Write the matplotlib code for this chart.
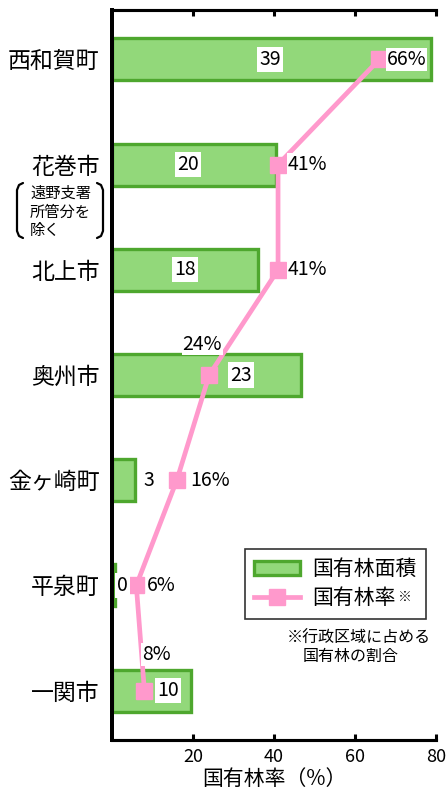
import numpy as np
import matplotlib
matplotlib.use('Agg')
import matplotlib.pyplot as plt
from matplotlib.patches import Patch
from matplotlib.lines import Line2D

plt.rcParams['font.family'] = ['Noto Sans CJK JP', 'DejaVu Sans']

# ---- data ----
towns = ['西和賀町', '花巻市', '北上市', '奥州市', '金ヶ崎町', '平泉町', '一関市']
forest_area = [39.4, 20.3, 18.0, 23.3, 2.9, 0.4, 9.7]     # bar (top scale, 0-40)
forest_rate = [66, 41, 41, 24, 16, 6, 8]                   # line (%)
area_ticks = [10, 20, 30, 40]
rate_ticks = [20, 40, 60, 80]
note_lines = ['遠野支署', '所管分を', '除く']

# label placement (layout only)
area_label_x = [39, 18.8, 18, 31.8, 9.1, 2.5, 13.8]        # in rate-axis units
rate_label_off = [(27, 0), (29, 0), (29, 0), (-7, 31), (33, 0), (25, 0), (12, 36)]

BAR_FILL = '#92d87a'
BAR_EDGE = '#4ea72e'
PINK = '#ff99cc'
W, H = 446, 795

fig = plt.figure(figsize=(W / 100, H / 100), dpi=100)
ax = fig.add_axes([112 / W, 1 - 740 / H, 324 / W, 730 / H])
ax_rate = ax.twiny()

y = np.arange(len(towns))

# bars on main axis, x axis on top
ax.barh(y, forest_area, height=0.4, color=BAR_FILL, edgecolor=BAR_EDGE,
        linewidth=2.4, zorder=2)
ax.set_xlim(0, 40)
ax.set_ylim(len(towns) - 0.53, -0.47)
ax.set_yticks(y)
ax.set_yticklabels(towns, fontsize=16.5)
ax.tick_params(axis='y', length=0, pad=9)
ax.xaxis.tick_top()
ax.set_xticks(area_ticks)
ax.tick_params(axis='x', direction='in', length=4, width=2.2, labelsize=13, pad=4)

# line on twin axis, x axis at bottom
ax_rate.plot(forest_rate, y, color=PINK, linewidth=3.4, marker='s', markersize=11,
             zorder=3)
ax_rate.set_xlim(0, 80)
ax_rate.xaxis.tick_bottom()
ax_rate.xaxis.set_label_position('bottom')
ax_rate.set_xticks(rate_ticks)
ax_rate.tick_params(axis='x', direction='in', length=4, width=2.2, labelsize=13, pad=6)
ax_rate.set_xlabel('国有林率（%）', fontsize=15, labelpad=1)

for a in (ax, ax_rate):
    a.spines['right'].set_visible(False)
    a.spines['left'].set_linewidth(2.8)
    a.spines['top'].set_linewidth(2.2)
    a.spines['bottom'].set_linewidth(2.2)

# value labels
for i, v in enumerate(forest_area):
    ax_rate.text(area_label_x[i], y[i], f'{v:.0f}', fontsize=14, ha='center', va='center',
                 bbox=dict(facecolor='white', edgecolor='none', pad=1.5), zorder=4)

for i, r in enumerate(forest_rate):
    dx, dy = rate_label_off[i]
    ax_rate.annotate(f'{r}%', (r, y[i]), xytext=(dx, dy), textcoords='offset pixels',
                     fontsize=14, ha='center', va='center',
                     bbox=dict(facecolor='white', edgecolor='none', pad=0.5), zorder=4)

# legend
handles = [Patch(facecolor=BAR_FILL, edgecolor=BAR_EDGE, linewidth=2.4),
           Line2D([], [], color=PINK, linewidth=3.4, marker='s', markersize=11)]
leg = ax_rate.legend(handles, ['国有林面積', '国有林率'], loc='upper left',
                     bbox_to_anchor=(0.41, 0.262), borderaxespad=0, fontsize=15,
                     frameon=True, fancybox=False, edgecolor='black',
                     handlelength=2.2, handletextpad=0.6, labelspacing=0.35,
                     borderpad=0.45)
leg.get_frame().set_linewidth(1.2)
fig.text(405 / W, 1 - 597 / H, '※', fontsize=10, fontweight='bold', ha='center', va='center')

# footnote
fig.text(359 / W, 1 - 638 / H, '※行政区域に占める', fontsize=11.5, ha='center', va='center')
fig.text(351 / W, 1 - 656 / H, '国有林の割合', fontsize=11.5, ha='center', va='center')

# sub note under 花巻市 with brackets
for k, line in enumerate(note_lines):
    fig.text(30 / W, 1 - (193 + 19 * k) / H, line, fontsize=11, ha='left', va='center')

left_br = [(23, 183), (19, 185), (17, 190), (17, 231), (19, 236), (23, 238)]
right_br = [(97, 183), (101, 185), (103, 190), (103, 231), (101, 236), (97, 238)]
for br in (left_br, right_br):
    xs = [p[0] / W for p in br]
    ys = [1 - p[1] / H for p in br]
    fig.add_artist(Line2D(xs, ys, color='black', linewidth=1.6,
                          solid_capstyle='round', transform=fig.transFigure))

fig.savefig('out.png', dpi=100)
plt.close(fig)
